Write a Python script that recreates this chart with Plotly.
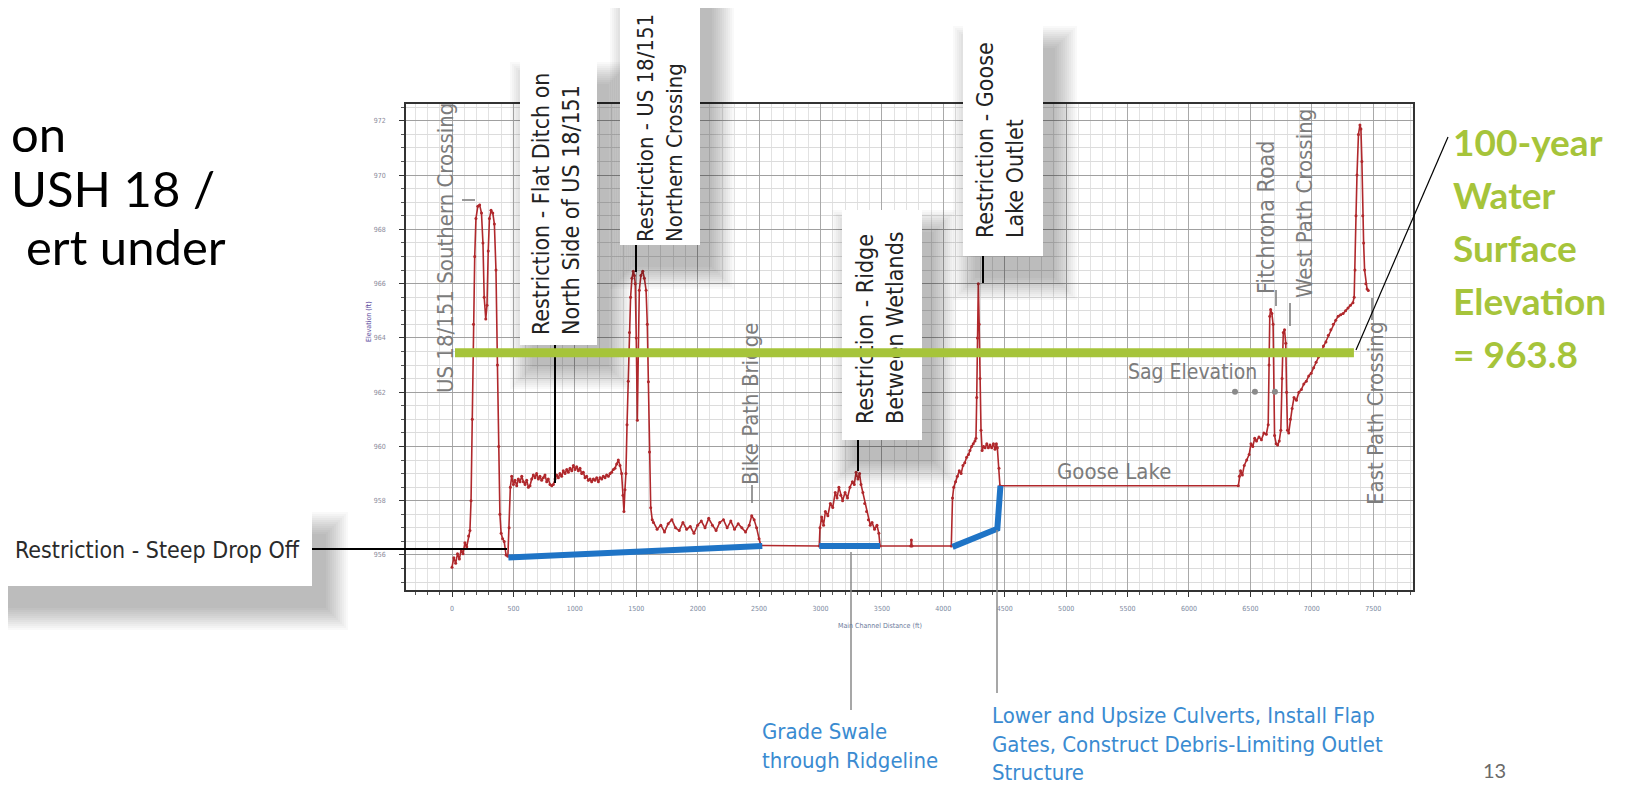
import plotly.graph_objects as go

# ---------------- page / plot geometry (page pixels) ----------------
W, H = 1627, 785
OFF = 8                      # default body margin of the html page
PL, PR, PT, PB = 406, 1413, 104, 590
X_RANGE = [-374.5, 7824]
Y_RANGE = [954.71, 972.62]

# ---------------- data ----------------
profile_dist = [
    0, 15, 30, 45, 60, 75, 90, 105, 120, 135, 146, 155, 165, 175, 185, 195, 210, 225, 240, 252,
    262, 275, 285, 295, 305, 318, 332, 345, 358, 370, 380, 390, 400, 412, 425, 440, 455, 465, 475,
    486, 500, 513, 527, 540, 554, 568, 581, 595, 608, 622, 635, 649, 662, 676, 689, 703, 716, 730,
    744, 757, 771, 784, 798, 812, 825, 839, 852, 866, 879, 893, 906, 920, 934, 947, 961, 975, 988,
    1002, 1015, 1029, 1042, 1056, 1069, 1083, 1096, 1110, 1124, 1137, 1151, 1164, 1178, 1192, 1205,
    1219, 1232, 1246, 1259, 1273, 1287, 1300, 1314, 1327, 1341, 1354, 1368, 1381, 1392, 1400, 1408,
    1416, 1425, 1435, 1445, 1454, 1465, 1476, 1485, 1492, 1500, 1509, 1517, 1525, 1538, 1553, 1566,
    1580, 1590, 1599, 1608, 1618, 1630,
    1640, 1670, 1700, 1730, 1760, 1790, 1820, 1850, 1880, 1910, 1940, 1970, 2000, 2030, 2060, 2090,
    2120, 2150, 2180, 2210, 2240, 2270, 2300, 2330, 2360, 2390, 2420, 2440, 2460, 2480, 2500, 2515,
    2990, 2996, 3010, 3025, 3040, 3060, 3080, 3100, 3120, 3135, 3150, 3165, 3180, 3200, 3220, 3240,
    3260, 3275, 3290, 3305, 3318, 3330, 3345, 3360, 3375, 3390, 3405, 3420, 3440, 3460, 3475, 3485,
    3735, 3740, 3745, 4065,
    4075, 4085, 4100, 4115, 4130, 4145, 4160, 4175, 4190, 4205, 4217, 4230, 4244, 4258, 4266, 4272,
    4278, 4285, 4292, 4299, 4307, 4316, 4328, 4340, 4354, 4367, 4380, 4394, 4408, 4421, 4432, 4440,
    4453, 4461,
    6402, 6410, 6420, 6435, 6450, 6470, 6490, 6505, 6520, 6535, 6550, 6570, 6590, 6610, 6630, 6645,
    6652, 6658, 6665, 6675, 6685, 6690, 6697, 6710, 6722, 6735, 6748, 6758, 6768, 6778, 6788, 6795,
    6802, 6812, 6825, 6840, 6855, 6875, 6895, 6915, 6935, 6955, 6975, 6995, 7015, 7035, 7055, 7075,
    7095, 7115, 7135, 7155, 7175, 7195, 7215, 7235, 7255, 7275, 7295, 7315, 7335, 7345, 7352, 7360,
    7368, 7380, 7392, 7400, 7408, 7415, 7422, 7430, 7440, 7450, 7460,
]
profile_elev = [
    955.55, 955.9, 955.7, 956.05, 955.85, 956.2, 956.05, 956.45, 956.3, 956.7, 956.9, 958.0, 961.0,
    964.5, 967.0, 968.4, 968.85, 968.9, 968.6, 967.5, 965.5, 964.7, 965.2, 967.2, 968.4, 968.7,
    968.6, 968.2, 966.5, 963.0, 960.0, 957.5, 956.8, 956.6, 956.5, 956.0, 955.95, 957.0, 958.5,
    958.9, 958.6, 958.75, 958.55, 958.8, 958.7, 958.9, 958.7, 958.6, 958.75, 958.5, 958.55, 958.8,
    958.95, 958.85, 959.0, 958.8, 958.9, 958.75, 958.85, 958.95, 958.7, 958.8, 958.6, 958.55, 958.6,
    958.8, 958.95, 958.85, 959.0, 958.9, 959.1, 959.0, 959.15, 959.05, 959.2, 959.1, 959.3, 959.15,
    959.25, 959.1, 959.2, 959.0, 959.05, 958.85, 958.9, 958.75, 958.8, 958.7, 958.8, 958.75, 958.85,
    958.7, 958.85, 958.8, 958.9, 958.85, 958.95, 958.9, 959.0, 959.05, 959.15, 959.2, 959.35, 959.5,
    959.3, 959.0, 958.2, 957.6, 958.4, 959.0, 960.8, 962.4, 964.2, 965.5, 966.2, 966.46, 966.3,
    966.0, 964.0, 960.97, 963.5, 965.76, 966.3, 966.46, 966.2, 965.76, 964.5, 962.38, 959.8, 957.74,
    957.3,
    957.2, 956.95, 957.1, 956.85, 957.15, 957.3, 957.0, 956.9, 957.2, 956.95, 957.05, 956.8, 957.1,
    957.25, 957.0, 957.35, 957.1, 956.9, 957.2, 957.3, 957.0, 957.25, 956.95, 957.15, 957.0, 956.85,
    957.1, 957.45, 957.3, 957.0, 956.6, 956.35,
    956.33, 957.0, 957.4, 957.1, 957.6, 957.45, 957.9, 957.75, 958.3, 958.1, 958.5, 958.2, 958.0,
    958.3, 958.1, 958.5, 958.7, 958.6, 959.05, 958.8, 959.0, 958.6, 958.3, 957.9, 957.6, 957.3,
    957.1, 957.2, 956.95, 957.1, 956.8, 956.33,
    956.33, 956.55, 956.33, 956.33,
    958.1, 958.5, 958.7, 958.9, 959.1, 959.0, 959.3, 959.4, 959.6, 959.7, 959.85, 960.0, 960.1,
    960.2, 960.3, 961.8, 964.0, 966.0, 964.5, 962.5, 960.6, 959.85, 960.0, 959.95, 960.1, 959.95,
    960.05, 959.95, 960.1, 959.9, 960.1, 959.95, 959.2, 958.55,
    958.55, 958.9, 959.1, 958.95, 959.3, 959.5, 959.7, 960.1, 960.0, 960.3, 960.2, 960.35, 960.25,
    960.5, 960.45, 960.8, 963.0, 964.8, 965.05, 964.9, 964.5, 962.0, 960.4, 960.1, 960.05, 960.2,
    960.6, 962.5, 964.2, 964.3, 963.8, 962.0, 960.6, 960.5, 961.0, 961.4, 961.8, 961.7, 962.0,
    962.1, 962.3, 962.4, 962.6, 962.7, 962.9, 963.1, 963.3, 963.5, 963.7, 963.85, 964.1, 964.3,
    964.5, 964.65, 964.8, 964.85, 964.9, 965.0, 965.1, 965.2, 965.3, 965.5, 966.5, 968.5, 970.0,
    971.5, 971.85, 971.7, 970.5, 968.5, 967.5, 966.5, 966.0, 965.8, 965.75,
]

# proposed grading (blue) segments
swale_dist = [[459, 2526], [2990, 3485], [4075, 4440, 4465]]
swale_elev = [[955.91, 956.33], [956.33, 956.33], [956.3, 956.97, 958.55]]

# 100-year water surface as drawn on the slide
wse_dist = [0, 7343]
wse_elev_drawn = 963.45
wse_label = ["100-year", "Water", "Surface", "Elevation", "= 963.8"]

sag_dist = [6375, 6537, 6700]
sag_elev = [962.02, 962.02, 962.02]

x_ticks = list(range(0, 7501, 500))
y_ticks = list(range(956, 973, 2))

# ---------------- helpers ----------------
def fx(px):
    return (px - PL) / (PR - PL)

def fy(py):
    return (PB - py) / (PB - PT)

COND = "Liberation Sans Narrow, DejaVu Sans Condensed, Roboto Condensed, Roboto, sans-serif"
LATO = "Lato, Carlito, Open Sans, sans-serif"
RED = "#b0282c"
BLUE = "#1f74c6"
GREEN = "#a6c43a"
GRAY_TXT = "#7c7c7c"
BLUE_TXT = "#3a8bd1"

fig = go.Figure()

fig.add_trace(go.Scatter(
    x=profile_dist, y=profile_elev, mode="lines+markers",
    line=dict(color=RED, width=1.6), marker=dict(color=RED, size=3),
    hoverinfo="skip", showlegend=False))

for sx, sy in zip(swale_dist, swale_elev):
    fig.add_trace(go.Scatter(x=sx, y=sy, mode="lines",
                             line=dict(color=BLUE, width=6), hoverinfo="skip", showlegend=False))

fig.add_trace(go.Scatter(x=sag_dist, y=sag_elev, mode="markers",
                         marker=dict(color="#8a8a8a", size=6), hoverinfo="skip", showlegend=False))

shapes = []

def box(x0, y0, x1, y1, ox=12, oy=22):
    for k in range(12):
        pad = 2 * k
        shapes.append(dict(type="rect", xref="paper", yref="paper", layer="above",
                           x0=fx(x0 + ox - pad), x1=fx(x1 + ox + pad),
                           y0=fy(y0 + oy - pad), y1=fy(y1 + oy + pad),
                           fillcolor="rgba(0,0,0,0.022)", line=dict(width=0)))
    shapes.append(dict(type="rect", xref="paper", yref="paper", layer="above",
                       x0=fx(x0), x1=fx(x1), y0=fy(y0), y1=fy(y1),
                       fillcolor="white", line=dict(width=0)))

def seg(x0, y0, x1, y1, color="black", width=2):
    shapes.append(dict(type="line", xref="paper", yref="paper", layer="above",
                       x0=fx(x0), x1=fx(x1), y0=fy(y0), y1=fy(y1),
                       line=dict(color=color, width=width)))

# label boxes
box(-40, 512, 312, 586, ox=14, oy=22)   # steep drop off
box(520, 62, 597, 345)                  # flat ditch
box(620, -40, 700, 245)                 # northern crossing
box(842, 210, 922, 440)                 # ridge
box(963, 26, 1043, 256)                 # goose lake outlet

# leaders
seg(312, 549, 507, 549)
seg(555, 345, 555, 483)
seg(636, 245, 636, 272)
seg(858, 440, 858, 471)
seg(983, 256, 983, 283)
# thin gray leaders
seg(462, 200, 475, 200, "#777", 1.5)
seg(752, 485, 752, 503, "#777", 1.5)
seg(1276, 290, 1276, 306, "#777", 1.5)
seg(1290, 303, 1290, 326, "#777", 1.5)
seg(1372, 298, 1372, 320, "#777", 1.5)
# bottom leaders to blue text
seg(851, 552, 851, 710, "#8a8a8a", 1.5)
seg(997, 530, 997, 693, "#8a8a8a", 1.5)
# leader from water line to label
seg(1356, 350, 1448, 137, "black", 1.2)

ann = []

def txt(text, px, py, size, color, angle=0, xanchor="center", yanchor="middle",
        family=COND, align="left"):
    ann.append(dict(text=text, x=fx(px), y=fy(py), xref="paper", yref="paper",
                    showarrow=False, textangle=angle, xanchor=xanchor, yanchor=yanchor,
                    align=align, font=dict(family=family, size=size, color=color)))

# slide text (truncated at the left of the slide)
txt("on", 68, 133, 49, "black", xanchor="right", family=LATO)
txt("USH 18 /", 217, 188, 49, "black", xanchor="right", family=LATO)
txt("ert under", 228, 246, 49, "black", xanchor="right", family=LATO)

txt("Restriction - Steep Drop Off", 157, 550, 23, "#2a2a2a")
txt("Restriction - Flat Ditch on<br>North Side of US 18/151", 556, 204, 23, "#222", angle=-90)
txt("Restriction - US 18/151<br>Northern Crossing", 660, 128, 22, "#222", angle=-90)
txt("Restriction - Ridge<br>Between Wetlands", 880, 328, 23, "#222", angle=-90)
txt("Restriction - Goose<br>Lake Outlet", 1000, 140, 23, "#222", angle=-90)

txt("US 18/151 Southern Crossing", 445, 248, 22, GRAY_TXT, angle=-90)
txt("Bike Path Bridge", 750, 404, 22, GRAY_TXT, angle=-90)
txt("Fitchrona Road", 1266, 218, 23, GRAY_TXT, angle=-90)
txt("West Path Crossing", 1305, 204, 22, GRAY_TXT, angle=-90)
txt("East Path Crossing", 1375, 414, 22, GRAY_TXT, angle=-90)
txt("Goose Lake", 1114, 471, 22, GRAY_TXT)
txt("Sag Elevation", 1192, 372, 21, GRAY_TXT)

txt("Grade Swale<br>through Ridgeline", 760, 746, 22, BLUE_TXT, xanchor="left")
txt("Lower and Upsize Culverts, Install Flap<br>Gates, Construct Debris-Limiting Outlet<br>Structure",
    990, 744, 22, BLUE_TXT, xanchor="left")

txt("Main Channel Distance (ft)", 880, 626, 7, "#6b7a9a")
txt("Elevation (ft)", 369, 322, 7, "#5b4a9e", angle=-90)

# water surface line as arrow annotation so it sits above the ridge label
ann.append(dict(x=wse_dist[1], y=wse_elev_drawn, ax=wse_dist[0], ay=wse_elev_drawn,
                xref="x", yref="y", axref="x", ayref="y", text=" ", showarrow=True,
                arrowhead=0, arrowwidth=9, arrowcolor=GREEN, standoff=0, startstandoff=0))

for i, line in enumerate(wse_label):
    txt("<b>%s</b>" % line, 1451, 141 + i * 53, 37, GREEN, xanchor="left", family=LATO)

txt("13", 1494, 784, 20, "#6a6a6a", yanchor="bottom", family="Lato, sans-serif")

fig.update_layout(
    width=W - OFF, height=H - OFF,
    margin=dict(l=PL - OFF, r=W - PR, t=PT - OFF, b=H - PB, pad=0, autoexpand=False),
    paper_bgcolor="white", plot_bgcolor="white",
    font=dict(family=COND),
    shapes=shapes, annotations=ann, showlegend=False,
)
fig.update_xaxes(
    range=X_RANGE, tickvals=x_ticks, ticktext=[str(v) for v in x_ticks],
    tickfont=dict(size=7, color="#7d8aa0"), ticks="outside", ticklen=5, tickcolor="#333",
    showgrid=True, gridcolor="#a9a9a9", gridwidth=1,
    minor=dict(dtick=100, tick0=0, showgrid=True, gridcolor="#e2e2e2", ticks="outside",
               ticklen=3, tickcolor="#555"),
    showline=True, linecolor="#333", linewidth=1.5, mirror=True, zeroline=False,
    ticklabelstandoff=6,
)
fig.update_yaxes(
    range=Y_RANGE, tickvals=y_ticks, ticktext=[str(v) for v in y_ticks],
    tickfont=dict(size=7, color="#8a8a9a"), ticks="outside", ticklen=5, tickcolor="#333",
    showgrid=True, gridcolor="#a0a0a0", gridwidth=1,
    minor=dict(dtick=0.5, tick0=0, showgrid=True, gridcolor="#dcdcdc", ticks="outside",
               ticklen=3, tickcolor="#555"),
    showline=True, linecolor="#333", linewidth=1.5, mirror=True, zeroline=False,
    ticklabelstandoff=12,
)

fig.write_html("out.html")
